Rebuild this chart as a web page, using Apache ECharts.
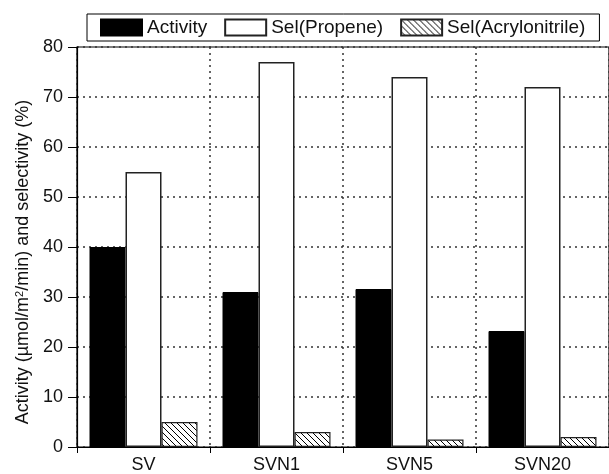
<!DOCTYPE html>
<html>
<head>
<meta charset="utf-8">
<script src="https://cdn.jsdelivr.net/npm/echarts@6/dist/echarts.min.js"></script>
<style>
  html, body { margin: 0; padding: 0; background: #fff; }
  #chart { width: 609px; height: 474px; }
</style>
</head>
<body>
<div id="chart"></div>
<script>
// Catalyst samples and measured values
const categories = ['SV', 'SVN1', 'SVN5', 'SVN20'];
const activity = [40, 31, 31.6, 23.2];
const selPropene = [55, 77, 74, 72];
const selAcrylonitrile = [5, 3, 1.5, 2];
const yTicks = { min: 0, max: 80, step: 10 };

// Diagonal hatch pattern ("\\\\") for the acrylonitrile bars
function hatchPattern() {
  const c = document.createElement('canvas');
  c.width = 6; c.height = 6;
  const g = c.getContext('2d');
  g.fillStyle = '#fff';
  g.fillRect(0, 0, 6, 6);
  g.strokeStyle = '#000';
  g.lineWidth = 1;
  g.beginPath();
  g.moveTo(-1, -1); g.lineTo(7, 7);
  g.moveTo(-1, 5); g.lineTo(1, 7);
  g.moveTo(5, -1); g.lineTo(7, 1);
  g.stroke();
  return { image: c, repeat: 'repeat' };
}

const font = 'Liberation Sans, Arial, sans-serif';
const dotted = { color: '#333', width: 1.5, type: [2, 4] };

const chart = echarts.init(document.getElementById('chart'));
chart.setOption({
  animation: false,
  textStyle: { fontFamily: font },
  legend: {
    left: 87, top: 14,
    padding: [4, 14, 4, 13],
    icon: 'rect',
    itemWidth: 41, itemHeight: 16, itemGap: 17,
    borderColor: '#000', borderWidth: 1, borderRadius: 0,
    textStyle: { fontSize: 19, color: '#111', fontFamily: font },
    data: ['Activity', 'Sel(Propene)', 'Sel(Acrylonitrile)']
  },
  grid: {
    left: 77, top: 47, width: 534, bottom: 25,
    show: true, borderColor: '#000', borderWidth: 1.2, backgroundColor: 'transparent'
  },
  xAxis: {
    type: 'category',
    data: categories,
    axisLine: { lineStyle: { color: '#000', width: 1.2 } },
    axisTick: { show: true, length: 6, inside: false, lineStyle: { color: '#000' } },
    axisLabel: { fontSize: 18, color: '#111', margin: 9 },
    splitLine: { show: true, lineStyle: dotted }
  },
  yAxis: {
    type: 'value',
    min: yTicks.min, max: yTicks.max, interval: yTicks.step,
    axisLine: { show: true, lineStyle: { color: '#000', width: 1.2 } },
    axisTick: { show: true, length: 9, lineStyle: { color: '#000' } },
    axisLabel: { fontSize: 18, color: '#111', margin: 14 },
    splitLine: { show: true, lineStyle: dotted },
    name: '{t|Activity (µmol/m}{s|2}{t|/min) and selectivity (%)}',
    nameLocation: 'middle',
    nameGap: 44,
    nameTextStyle: {
      padding: [0, 30, 0, 0],
      rich: {
        t: { fontSize: 18, color: '#111', fontFamily: font },
        s: { fontSize: 11, color: '#111', fontFamily: font, verticalAlign: 'top', padding: [0, 0, 7, 0] }
      }
    }
  },
  series: [
    {
      name: 'Activity', type: 'bar', data: activity,
      barWidth: 36, barGap: '0%',
      itemStyle: { color: '#000', borderColor: '#000', borderWidth: 1 }
    },
    {
      name: 'Sel(Propene)', type: 'bar', data: selPropene,
      barWidth: 36, barGap: '0%',
      itemStyle: { color: '#fff', borderColor: '#222', borderWidth: 1.5 }
    },
    {
      name: 'Sel(Acrylonitrile)', type: 'bar', data: selAcrylonitrile,
      barWidth: 36, barGap: '0%',
      itemStyle: { color: hatchPattern(), borderColor: '#222', borderWidth: 1.2 }
    }
  ]
});
</script>
</body>
</html>
